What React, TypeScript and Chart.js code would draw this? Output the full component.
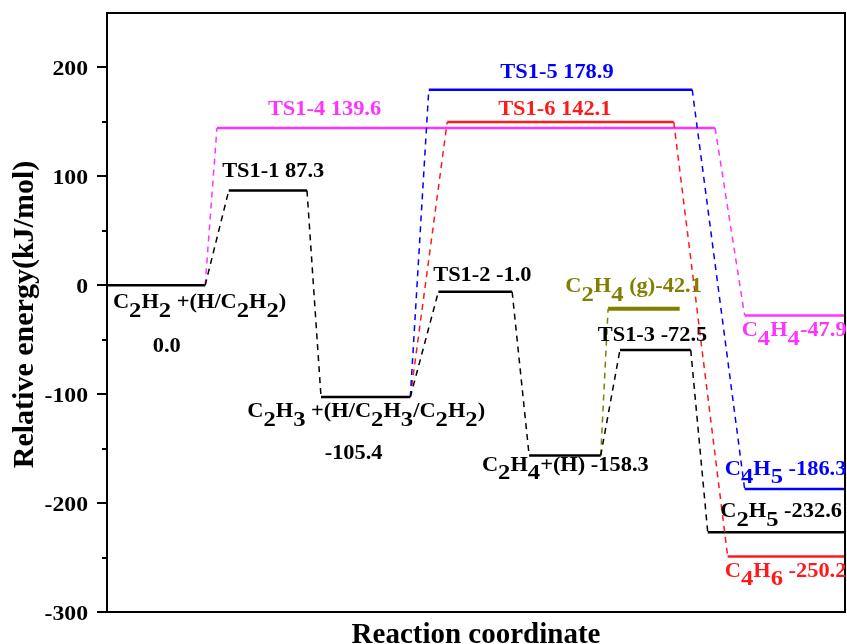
import React, { useEffect, useRef } from "react";
import { Chart, registerables } from "chart.js";

Chart.register(...registerables);

// Energy levels (x range in reaction-coordinate units 0..100, y = drawn energy kJ/mol)
const levelNames = ["C2H2", "TS1-1", "C2H3", "TS1-2", "C2H4+H", "C2H4(g)", "TS1-3", "C2H5", "TS1-4", "C4H4", "TS1-5", "C4H5", "TS1-6", "C4H6"];
const levelEnergy = [0, 87.0, -102.6, -6.0, -156.3, -21.6, -59.5, -226.8, 144.4, -27.7, 179.6, -187.1, 149.9, -249.0];
const levelStart = [0, 16.5, 29.0, 44.9, 57.2, 67.9, 69.5, 81.4, 14.9, 86.4, 43.6, 86.4, 46.1, 84.1];
const levelEnd = [13.3, 27.1, 41.1, 54.9, 66.9, 77.6, 79.1, 100, 82.4, 100, 79.3, 100, 76.8, 100];
const levelColor = ["#000000", "#000000", "#000000", "#000000", "#000000", "#808000", "#000000", "#000000", "#ff33ff", "#ff33ff", "#0000ff", "#0000ff", "#ff1a1a", "#ff1a1a"];
const levelWidth = [2.5, 2.5, 2.5, 2.5, 2.5, 4, 2.5, 2.5, 2.5, 2.5, 2.5, 2.5, 2.5, 2.5];

// Dashed connectors: [from level index, to level index]
const linkFrom = [0, 1, 2, 3, 4, 6, 0, 8, 2, 10, 2, 12, 4];
const linkTo = [1, 2, 3, 4, 6, 7, 8, 9, 10, 11, 12, 13, 5];
const linkColor = ["#000000", "#000000", "#000000", "#000000", "#000000", "#000000", "#ff33ff", "#ff33ff", "#0000ff", "#0000ff", "#ff1a1a", "#ff1a1a", "#808000"];

// Text labels ("_x" = subscript x), anchored at left/baseline in data units
const labelText = [
  "TS1-1 87.3", "TS1-4 139.6", "TS1-5 178.9", "TS1-6 142.1", "TS1-2 -1.0",
  "C_2H_4 (g)-42.1", "TS1-3 -72.5", "C_4H_4-47.9", "C_2H_3 +(H/C_2H_3/C_2H_2)", "-105.4",
  "C_2H_4+(H) -158.3", "C_4H_5 -186.3", "C_2H_5 -232.6", "C_4H_6 -250.2", "C_2H_2 +(H/C_2H_2)", "0.0",
];
const labelX = [15.6, 21.8, 53.3, 53.0, 44.2, 62.1, 66.5, 86.0, 19.0, 29.5, 50.8, 83.7, 83.1, 83.7, 0.8, 6.2];
const labelY = [99.5, 156.3, 190.0, 156.3, 4.3, -6.4, -51.3, -46.7, -121.2, -159.6, -170.3, -174.0, -213.0, -267.7, -21.3, -61.4];
const labelColor = [
  "#000000", "#ff33ff", "#0000ff", "#ff1a1a", "#000000",
  "#808000", "#000000", "#ff33ff", "#000000", "#000000",
  "#000000", "#0000ff", "#000000", "#ff1a1a", "#000000", "#000000",
];

const yMajorTicks = [200, 100, 0, -100, -200, -300];
const yMinorTicks = [150, 50, -50, -150, -250];
const yTitle = "Relative energy(kJ/mol)";
const xTitle = "Reaction coordinate";

const FONT = '"Liberation Serif", "Times New Roman", serif';

function drawRich(ctx: CanvasRenderingContext2D, x: number, y: number, text: string, color: string, size: number, sx: number) {
  ctx.save();
  ctx.translate(x, y);
  ctx.scale(sx, 1);
  ctx.fillStyle = color;
  ctx.textBaseline = "alphabetic";
  ctx.textAlign = "left";
  let cx = 0;
  let i = 0;
  while (i < text.length) {
    let sub = false;
    let ch = text[i];
    if (ch === "_" && i + 1 < text.length) {
      sub = true;
      ch = text[i + 1];
      i += 2;
    } else {
      i += 1;
    }
    ctx.font = `bold ${sub ? Math.round(size * 1.1) : size}px ${FONT}`;
    ctx.fillText(ch, cx, sub ? size * 0.42 : 0);
    cx += ctx.measureText(ch).width;
  }
  ctx.restore();
}

const annotPlugin = {
  id: "annot",
  afterDraw(chart: any) {
    const ctx: CanvasRenderingContext2D = chart.ctx;
    const xs = chart.scales.x;
    const ys = chart.scales.y;
    const a = chart.chartArea;
    ctx.save();
    // frame
    ctx.strokeStyle = "#000";
    ctx.lineWidth = 2;
    ctx.strokeRect(a.left, a.top, a.right - a.left, a.bottom - a.top);
    // ticks
    ctx.beginPath();
    yMajorTicks.forEach((v) => {
      const py = Math.round(ys.getPixelForValue(v));
      ctx.moveTo(a.left, py);
      ctx.lineTo(a.left - 10, py);
    });
    yMinorTicks.forEach((v) => {
      const py = Math.round(ys.getPixelForValue(v));
      ctx.moveTo(a.left, py);
      ctx.lineTo(a.left - 5, py);
    });
    ctx.stroke();
    // tick labels
    const tsz = 21;
    const tsx = 1.13;
    ctx.font = `bold ${tsz}px ${FONT}`;
    yMajorTicks.forEach((v) => {
      const py = ys.getPixelForValue(v);
      const s = String(v);
      ctx.font = `bold ${tsz}px ${FONT}`;
      const w = ctx.measureText(s).width * tsx;
      drawRich(ctx, a.left - 19 - w, py + 7.5, s, "#000", tsz, tsx);
    });
    // y title
    ctx.save();
    ctx.translate(33, 314.5);
    ctx.rotate(-Math.PI / 2);
    ctx.font = `bold 30px ${FONT}`;
    ctx.fillStyle = "#000";
    ctx.textAlign = "center";
    ctx.textBaseline = "alphabetic";
    ctx.fillText(yTitle, 0, 0);
    ctx.restore();
    // x title
    ctx.font = `bold 29px ${FONT}`;
    ctx.fillStyle = "#000";
    ctx.textAlign = "center";
    ctx.textBaseline = "alphabetic";
    ctx.fillText(xTitle, (a.left + a.right) / 2, 643);
    // labels
    labelText.forEach((t, i) => {
      drawRich(ctx, xs.getPixelForValue(labelX[i]), ys.getPixelForValue(labelY[i]), t, labelColor[i], 20, 1.12);
    });
    ctx.restore();
  },
};

export default function App() {
  const ref = useRef<HTMLCanvasElement | null>(null);
  useEffect(() => {
    document.body.style.margin = "0";
    const datasets: any[] = [];
    linkFrom.forEach((f, i) => {
      const t = linkTo[i];
      datasets.push({
        label: `link${i}`,
        data: [
          { x: levelEnd[f], y: levelEnergy[f] },
          { x: levelStart[t], y: levelEnergy[t] },
        ],
        showLine: true,
        borderColor: linkColor[i],
        borderWidth: 1.5,
        borderDash: [6, 5],
        pointRadius: 0,
        fill: false,
      });
    });
    levelNames.forEach((n, i) => {
      datasets.push({
        label: n,
        data: [
          { x: levelStart[i], y: levelEnergy[i] },
          { x: levelEnd[i], y: levelEnergy[i] },
        ],
        showLine: true,
        borderColor: levelColor[i],
        borderWidth: levelWidth[i],
        pointRadius: 0,
        fill: false,
      });
    });
    const chart = new Chart(ref.current as HTMLCanvasElement, {
      type: "scatter",
      data: { datasets },
      options: {
        animation: false,
        responsive: true,
        maintainAspectRatio: false,
        layout: { padding: { left: 107, top: 13, right: 2, bottom: 32 } },
        plugins: { legend: { display: false }, tooltip: { enabled: false }, title: { display: false } },
        scales: {
          x: { type: "linear", min: 0, max: 100, display: false },
          y: { type: "linear", min: -300, max: 250, display: false },
        },
      },
      plugins: [annotPlugin],
    } as any);
    return () => chart.destroy();
  }, []);
  return (
    <div style={{ width: 847, height: 644, position: "relative", background: "#fff" }}>
      <canvas ref={ref} />
    </div>
  );
}
